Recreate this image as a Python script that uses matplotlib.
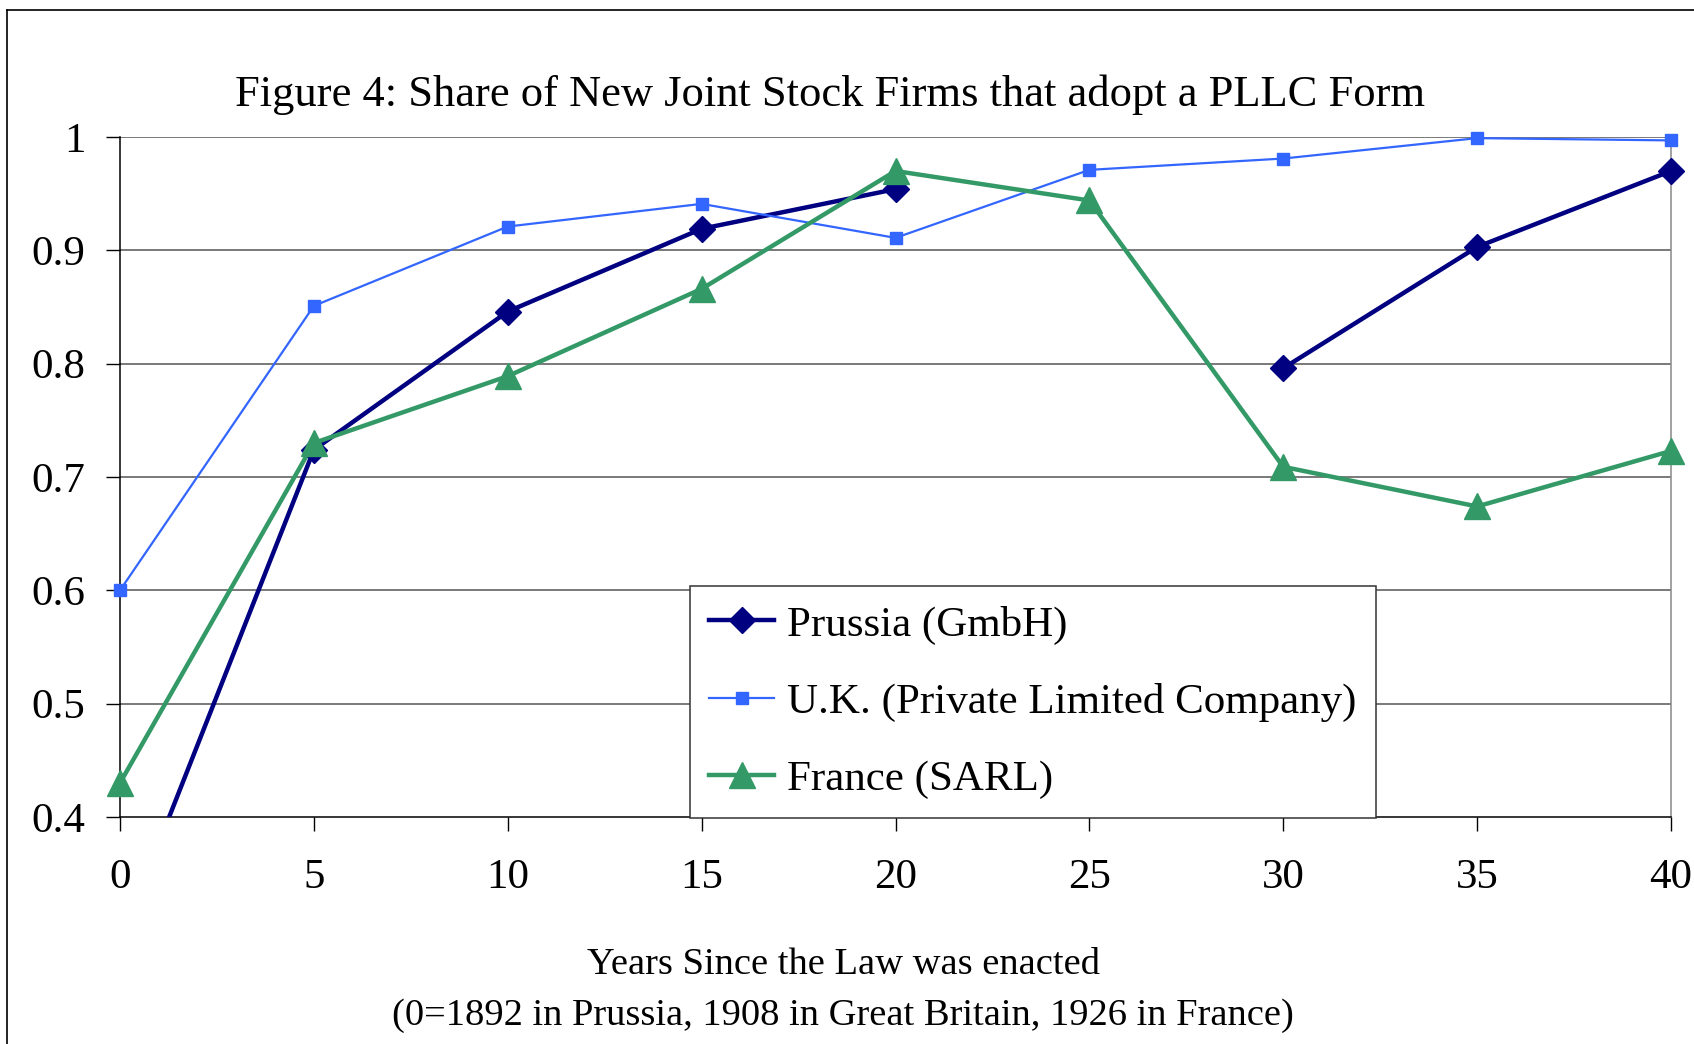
import numpy as np
import matplotlib
matplotlib.use("Agg")
import matplotlib.pyplot as plt
from matplotlib.lines import Line2D

plt.rcParams['font.family'] = ['Liberation Serif', 'DejaVu Serif']

# data
years = [0, 5, 10, 15, 20, 25, 30, 35, 40]
prussia = [0.29, 0.724, 0.846, 0.919, 0.954, np.nan, 0.796, 0.903, 0.970]
uk = [0.600, 0.851, 0.921, 0.941, 0.911, 0.971, 0.981, 0.999, 0.997]
france = [0.430, 0.730, 0.789, 0.866, 0.970, 0.944, 0.709, 0.674, 0.723]
yticks = [0.4, 0.5, 0.6, 0.7, 0.8, 0.9, 1.0]
ytick_labels = ['0.4', '0.5', '0.6', '0.7', '0.8', '0.9', '1']

W, H = 1694, 1044
fig = plt.figure(figsize=(W / 100, H / 100), dpi=100)
ax = fig.add_axes([120 / W, 1 - 817 / H, (1671 - 120) / W, (817 - 137) / H])

series = [
    ("Prussia (GmbH)", prussia, "#000080", 3.2, "D", 13),
    ("U.K. (Private Limited Company)", uk, "#3366FF", 1.6, "s", 9),
    ("France (SARL)", france, "#339966", 3.2, "^", 18.5),
]

handles = []
for name, vals, col, lw, mk, ms in series:
    vals = np.array(vals, dtype=float)
    # line is clipped by the axes (Prussia starts below 0.4)
    ax.plot(years, vals, color=col, lw=lw, zorder=3)
    # markers only where the value is on the chart, drawn unclipped at the edges
    shown = np.where(vals >= 0.4, vals, np.nan)
    ax.plot(years, shown, ls='none', marker=mk, ms=ms, color=col,
            mec=col, clip_on=False, zorder=4)
    handles.append(Line2D([], [], color=col, lw=lw, marker=mk, ms=ms, mec=col))

ax.set_xlim(0, 40)
ax.set_ylim(0.4, 1.0)
ax.set_xticks(years)
ax.set_yticks(yticks)
ax.set_yticklabels(ytick_labels)
ax.tick_params(axis='both', direction='out', length=10, width=1, color='black',
               labelsize=31)
ax.tick_params(axis='y', pad=15)
ax.tick_params(axis='x', pad=20)

for y in yticks[1:]:
    ax.axhline(y, color='#555555', lw=1.1, zorder=1)

ax.spines['top'].set_visible(False)
ax.spines['right'].set_color('#888888')
ax.spines['left'].set_color('black')
ax.spines['bottom'].set_color('black')
for s in ax.spines.values():
    s.set_linewidth(1.1)

fig.text(830 / W, 1 - 95 / H,
         "Figure 4: Share of New Joint Stock Firms that adopt a PLLC Form",
         ha='center', va='center', fontsize=32)

fig.text(843 / W, 1 - 965 / H, "Years Since the Law was enacted",
         ha='center', va='center', fontsize=27.7)
fig.text(843 / W, 1 - 1016 / H,
         "(0=1892 in Prussia, 1908 in Great Britain, 1926 in France)",
         ha='center', va='center', fontsize=27.7)

leg = fig.legend(handles, [s[0] for s in series], loc='upper left',
                 bbox_to_anchor=(690 / W, 1 - 586 / H),
                 bbox_transform=fig.transFigure, fontsize=31,
                 frameon=True, fancybox=False, framealpha=1,
                 edgecolor='#333333', borderpad=0.45, labelspacing=0.88,
                 handlelength=1.5, handletextpad=0.3, borderaxespad=0)
leg.get_frame().set_linewidth(1.1)

# outer chart border (left and top visible)
fig.add_artist(Line2D([7 / W, 7 / W], [0, 1 - 10 / H], color='black', lw=1.2,
                      transform=fig.transFigure))
fig.add_artist(Line2D([7 / W, 1], [1 - 10 / H, 1 - 10 / H], color='black', lw=1.2,
                      transform=fig.transFigure))

fig.savefig("out.png", dpi=100)
